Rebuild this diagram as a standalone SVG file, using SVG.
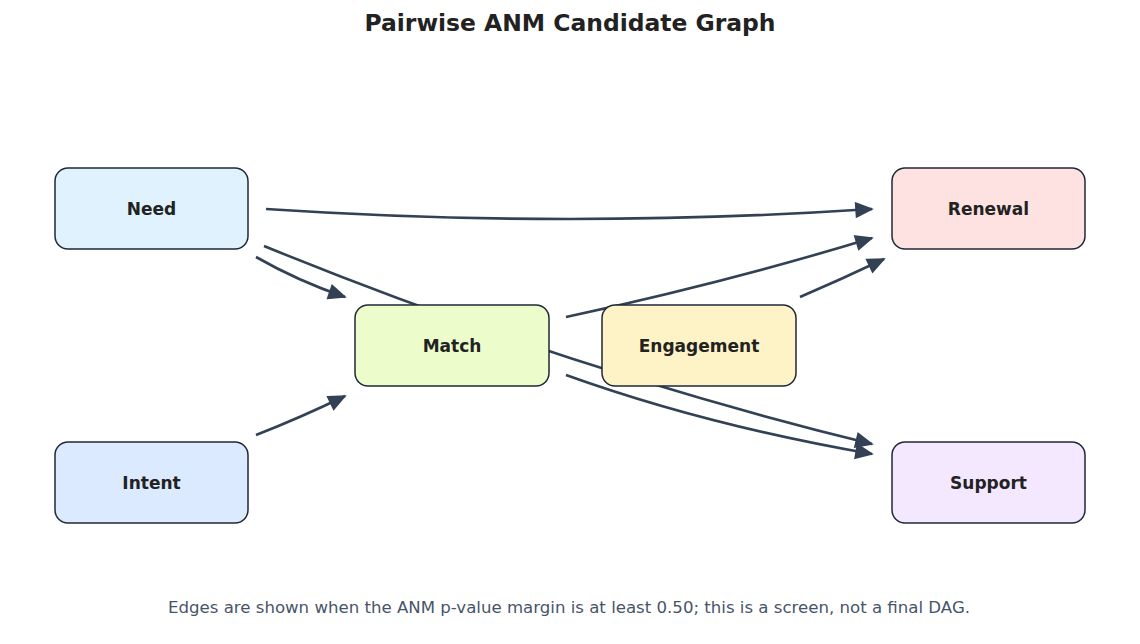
<svg xmlns="http://www.w3.org/2000/svg" width="1140" height="644" viewBox="0 0 1140 644">
<style>
.edge{fill:none;stroke:#334155;stroke-width:2.6;stroke-linecap:butt}
.node rect{stroke:#1f2937;stroke-width:1.5}
.node text{font-family:"DejaVu Sans",sans-serif;font-weight:bold;font-size:17px;fill:#222;text-anchor:middle;dominant-baseline:central}
.title{font-family:"DejaVu Sans",sans-serif;font-weight:bold;font-size:23px;fill:#222;text-anchor:middle}
.caption{font-family:"DejaVu Sans",sans-serif;font-size:16px;fill:#475569;text-anchor:middle}
</style>
<defs>
<marker id="ah" viewBox="-2 -2 20 18" refX="16" refY="7" markerWidth="20" markerHeight="18" markerUnits="userSpaceOnUse" orient="auto">
<path d="M0,0 L16,7 L0,14 Z" fill="#334155" stroke="#334155" stroke-width="1.5" stroke-linejoin="miter"/>
</marker>
</defs>
<rect width="1140" height="644" fill="#ffffff"/>
<text class="title" x="570" y="31" textLength="411" lengthAdjust="spacingAndGlyphs">Pairwise ANM Candidate Graph</text>
<g id="connectors">
<path class="edge" marker-end="url(#ah)" d="M266,209 Q570,229 872,209"/>
<path class="edge" marker-end="url(#ah)" d="M256,257 Q298,281 345,297"/>
<path class="edge" marker-end="url(#ah)" d="M264,246 Q565,369 872,444"/>
<path class="edge" marker-end="url(#ah)" d="M566,317 Q728,282 872,238"/>
<path class="edge" marker-end="url(#ah)" d="M800,297 Q842,279 884,259"/>
<path class="edge" marker-end="url(#ah)" d="M256,435 Q302,417 345,396"/>
<path class="edge" marker-end="url(#ah)" d="M566,375 Q705,425 872,454"/>
</g>
<g id="node-need" class="node"><rect x="55" y="168" width="193" height="81" rx="13" fill="#e0f2fe"/><text x="151.5" y="209">Need</text></g>
<g id="node-intent" class="node"><rect x="55" y="442" width="193" height="81" rx="13" fill="#dbeafe"/><text x="151.5" y="483">Intent</text></g>
<g id="node-match" class="node"><rect x="355" y="305" width="194" height="81" rx="13" fill="#ecfccb"/><text x="452" y="346">Match</text></g>
<g id="node-engagement" class="node"><rect x="602" y="305" width="194" height="81" rx="13" fill="#fef3c7"/><text x="699" y="346">Engagement</text></g>
<g id="node-renewal" class="node"><rect x="892" y="168" width="193" height="81" rx="13" fill="#fee2e2"/><text x="988.5" y="209">Renewal</text></g>
<g id="node-support" class="node"><rect x="892" y="442" width="193" height="81" rx="13" fill="#f3e8ff"/><text x="988.5" y="483">Support</text></g>
<text class="caption" x="569" y="613" textLength="802" lengthAdjust="spacingAndGlyphs">Edges are shown when the ANM p-value margin is at least 0.50; this is a screen, not a final DAG.</text>
</svg>
